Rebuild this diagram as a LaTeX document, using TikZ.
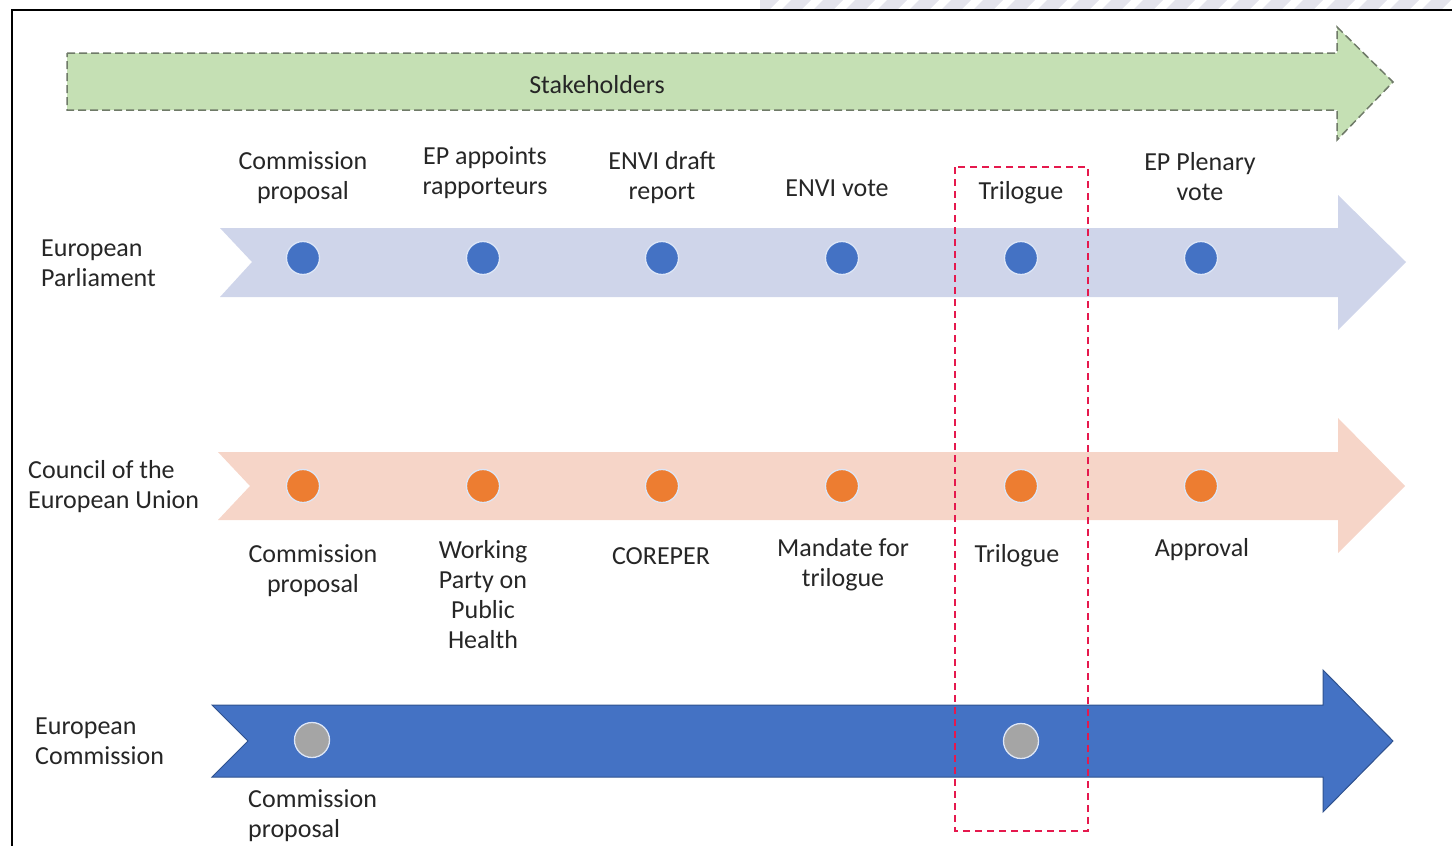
\documentclass[tikz,border=0pt]{standalone}
\usepackage{fontspec}
\setmainfont{Carlito}
\definecolor{txt}{HTML}{262626}
\definecolor{greenfill}{HTML}{C5E0B4}
\definecolor{greenedge}{HTML}{6F7A68}
\definecolor{epband}{HTML}{CFD5EA}
\definecolor{cuband}{HTML}{F6D5C8}
\definecolor{ecband}{HTML}{4472C4}
\definecolor{ecedge}{HTML}{2F528F}
\definecolor{epblue}{HTML}{4472C4}
\definecolor{cuorange}{HTML}{ED7D31}
\definecolor{ecgray}{HTML}{A5A5A5}
\definecolor{dotrim}{HTML}{DDE6F7}
\definecolor{trired}{HTML}{E5194D}
\definecolor{stripe}{HTML}{E4E4EC}
\tikzset{
  lbl/.style={text=txt, font=\fontsize{26}{30}\selectfont, align=center, inner sep=0pt},
  lbll/.style={lbl, align=left, anchor=west},
  dotbase/.style={circle, draw=dotrim, line width=1.3pt, minimum size=33pt, inner sep=0pt},
  epdot/.style={dotbase, fill=epblue},
  cudot/.style={dotbase, fill=cuorange},
  ecdot/.style={dotbase, fill=ecgray, minimum size=35pt},
  trirect/.style={draw=trired, line width=1.6pt, dash pattern=on 7pt off 5pt},
}
\begin{document}
\begin{tikzpicture}[x=1pt,y=-1pt]
\useasboundingbox (0,0) rectangle (1452,846);
% top stripes
\begin{scope}
\clip (760,0) rectangle (1452,9);
\foreach \s in {750,782,...,1480} {
  \fill[stripe] (\s,9) -- (\s+20,9) -- (\s+29,0) -- (\s+9,0) -- cycle;
}
\end{scope}
% frame
\draw[line width=2pt, black] (12,846) -- (12,10) -- (1452,10);
% stakeholders arrow
\path[fill=greenfill, draw=greenedge, line width=1.5pt, dash pattern=on 8pt off 4pt]
  (67,53) -- (1337,53) -- (1337,27) -- (1393,82) -- (1337,140) -- (1337,110) -- (67,110) -- cycle;
\node[lbl] (stake) at (597,85) {Stakeholders};
% bands
\fill[epband] (220,228) -- (1338,228) -- (1338,195) -- (1406,262) -- (1338,330) -- (1338,297) -- (220,297) -- (252,262) -- cycle;
\fill[cuband] (218,452) -- (1338,452) -- (1338,418) -- (1405,486) -- (1338,553) -- (1338,520) -- (218,520) -- (250,486) -- cycle;
\path[fill=ecband, draw=ecedge, line width=1pt] (212,705) -- (1323,705) -- (1323,670) -- (1393,741) -- (1323,812) -- (1323,777) -- (212,777) -- (248,741) -- cycle;
% dots
\foreach \x [count=\i] in {303,483,662,842,1021,1201} {
  \node[epdot] (ep\i) at (\x,258) {};
  \node[cudot] (cu\i) at (\x,486) {};
}
\node[ecdot] (ec1) at (312,740) {};
\node[ecdot] (ec2) at (1021,741) {};
% trilogue box
\draw[trirect] (955,167) rectangle (1088,831);
% left labels
\node[lbll] (lep) at (41,263) {European\\Parliament};
\node[lbll] (lcu) at (28,487) {Council of the\\European Union};
\node[lbll] (lec) at (35,741) {European\\Commission};
% EP labels
\node[lbl] (t1) at (303,178) {Commission\\proposal};
\node[lbl] (t2) at (485,173) {EP appoints\\rapporteurs};
\node[lbl] (t3) at (662,178) {ENVI draft\\report};
\node[lbl] (t4) at (837,188) {ENVI vote};
\node[lbl] (t5) at (1021,193) {Trilogue};
\node[lbl] (t6) at (1200,177) {EP Plenary\\vote};
% Council labels
\node[lbl] (b1) at (313,571) {Commission\\proposal};
\node[lbl] (b2) at (483,595) {Working\\Party on\\Public\\Health};
\node[lbl] (b3) at (661,556) {COREPER};
\node[lbl] (b4) at (843,565) {Mandate for\\trilogue};
\node[lbl] (b5) at (1017,556) {Trilogue};
\node[lbl] (b6) at (1202,550) {Approval};
% Commission label
\node[lbll] (c1) at (248,816) {Commission\\proposal};
\end{tikzpicture}
\end{document}
